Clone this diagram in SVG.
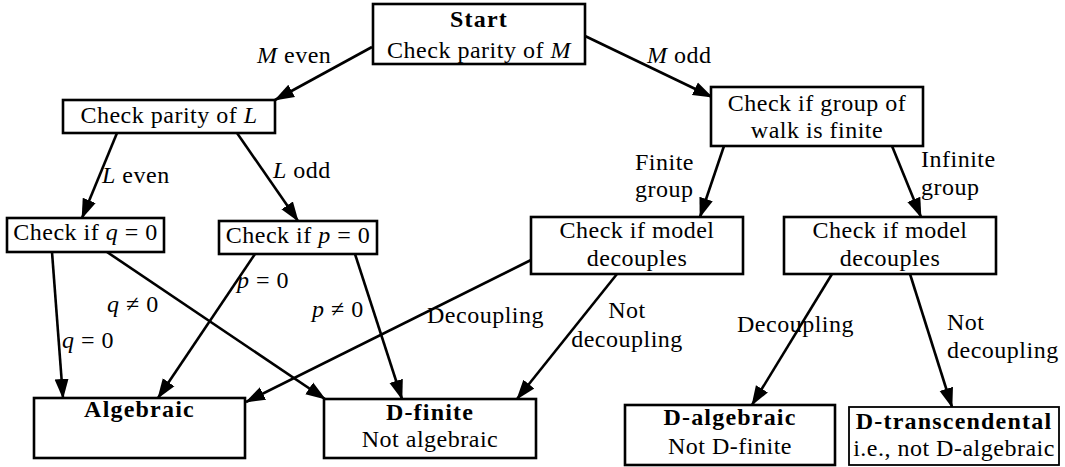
<svg xmlns="http://www.w3.org/2000/svg" width="1065" height="467" viewBox="0 0 1065 467" font-family="'Liberation Serif', 'DejaVu Serif', serif">
<style>
  .box { fill: #fff; stroke: #000; stroke-width: 2.6; }
  .thin { stroke-width: 1.8; }
  text { font-family: 'Liberation Serif', 'DejaVu Serif', serif; font-size: 24px; fill: #000; letter-spacing: 0.5px; }
  .c { text-anchor: middle; }
  .b { font-weight: bold; letter-spacing: 1.2px; }
  .i { font-style: italic; }
  .edge { stroke: #000; stroke-width: 2.6; fill: none; marker-end: url(#arr); }
</style>
<defs>
  <marker id="arr" markerUnits="userSpaceOnUse" markerWidth="20" markerHeight="16" viewBox="0 0 20 16" refX="19" refY="8" orient="auto">
    <path d="M0,1 L20,8 L0,15 Z" fill="#000"/>
  </marker>
</defs>
<rect width="1065" height="467" fill="#fff"/>
<g id="connectors">
  <line class="edge" x1="372" y1="47" x2="275" y2="100"/>
  <line class="edge" x1="585" y1="36" x2="712" y2="97"/>
  <line class="edge" x1="117" y1="133" x2="82" y2="218"/>
  <line class="edge" x1="237" y1="133" x2="298" y2="221"/>
  <line class="edge" x1="724" y1="146" x2="700" y2="217"/>
  <line class="edge" x1="892" y1="146" x2="921" y2="217"/>
  <line class="edge" x1="52" y1="252" x2="63" y2="398"/>
  <line class="edge" x1="107" y1="252" x2="325" y2="399"/>
  <line class="edge" x1="255" y1="254" x2="158" y2="398"/>
  <line class="edge" x1="355" y1="254" x2="402" y2="399"/>
  <line class="edge" x1="531" y1="260" x2="246" y2="402"/>
  <line class="edge" x1="617" y1="274" x2="517" y2="399"/>
  <line class="edge" x1="832" y1="274" x2="752" y2="405"/>
  <line class="edge" x1="910" y1="274" x2="952" y2="407"/>
  <text x="257" y="63"><tspan class="i">M</tspan> even</text>
  <text x="647" y="63"><tspan class="i">M</tspan> odd</text>
  <text x="102" y="183"><tspan class="i">L</tspan> even</text>
  <text x="273" y="178"><tspan class="i">L</tspan> odd</text>
  <text x="635" y="170">Finite</text>
  <text x="635" y="197">group</text>
  <text x="921" y="167">Infinite</text>
  <text x="921" y="195">group</text>
  <text x="237" y="288"><tspan class="i">p</tspan> = 0</text>
  <text x="107" y="312"><tspan class="i">q</tspan> ≠ 0</text>
  <text x="312" y="317"><tspan class="i">p</tspan> ≠ 0</text>
  <text x="62" y="348"><tspan class="i">q</tspan> = 0</text>
  <text x="427" y="323">Decoupling</text>
  <text class="c" x="627" y="318">Not</text>
  <text class="c" x="627" y="347">decoupling</text>
  <text x="737" y="332">Decoupling</text>
  <text x="947" y="330">Not</text>
  <text x="947" y="358">decoupling</text>
</g>
<g id="start">
  <rect class="box" x="373" y="4" width="212" height="60"/>
  <text class="c b" x="479" y="27">Start</text>
  <text class="c" x="479" y="58">Check parity of <tspan class="i">M</tspan></text>
</g>
<g id="parityL">
  <rect class="box" x="63" y="100" width="212" height="33"/>
  <text class="c" x="169" y="123">Check parity of <tspan class="i">L</tspan></text>
</g>
<g id="group">
  <rect class="box" x="711" y="87" width="212" height="59"/>
  <text class="c" x="817" y="111">Check if group of</text>
  <text class="c" x="817" y="138">walk is finite</text>
</g>
<g id="checkq">
  <rect class="box" x="7" y="218" width="157" height="34"/>
  <text class="c" x="85.5" y="240">Check if <tspan class="i">q</tspan> = 0</text>
</g>
<g id="checkp">
  <rect class="box" x="219" y="221" width="158" height="33"/>
  <text class="c" x="298" y="243">Check if <tspan class="i">p</tspan> = 0</text>
</g>
<g id="decFinite">
  <rect class="box" x="531" y="217" width="212" height="57"/>
  <text class="c" x="637" y="238">Check if model</text>
  <text class="c" x="637" y="266">decouples</text>
</g>
<g id="decInfinite">
  <rect class="box" x="784" y="217" width="212" height="57"/>
  <text class="c" x="890" y="238">Check if model</text>
  <text class="c" x="890" y="266">decouples</text>
</g>
<g id="algebraic">
  <rect class="box" x="34" y="398" width="211" height="60"/>
  <text class="c b" x="139.5" y="417">Algebraic</text>
</g>
<g id="dfinite">
  <rect class="box" x="324" y="399" width="212" height="59"/>
  <text class="c b" x="430" y="420">D-finite</text>
  <text class="c" x="430" y="447">Not algebraic</text>
</g>
<g id="dalgebraic">
  <rect class="box" x="625" y="405" width="210" height="60"/>
  <text class="c b" x="730" y="425">D-algebraic</text>
  <text class="c" x="730" y="454">Not D-finite</text>
</g>
<g id="dtranscendental">
  <rect class="box thin" x="849" y="407" width="210" height="58"/>
  <text class="c b" x="954" y="429">D-transcendental</text>
  <text class="c" x="954" y="456">i.e., not D-algebraic</text>
</g>
</svg>
